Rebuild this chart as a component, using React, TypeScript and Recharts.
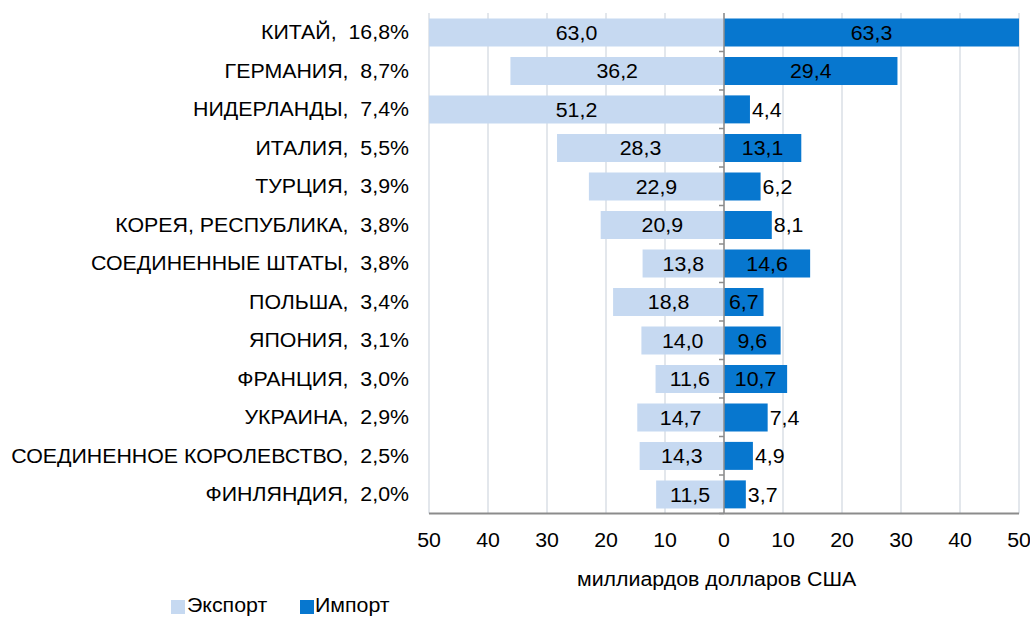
import React from "react";
import { BarChart, Bar, XAxis, YAxis, CartesianGrid, Legend, LabelList, ReferenceLine } from "recharts";

const countries = [
  "КИТАЙ",
  "ГЕРМАНИЯ",
  "НИДЕРЛАНДЫ",
  "ИТАЛИЯ",
  "ТУРЦИЯ",
  "КОРЕЯ, РЕСПУБЛИКА",
  "СОЕДИНЕННЫЕ ШТАТЫ",
  "ПОЛЬША",
  "ЯПОНИЯ",
  "ФРАНЦИЯ",
  "УКРАИНА",
  "СОЕДИНЕННОЕ КОРОЛЕВСТВО",
  "ФИНЛЯНДИЯ",
];
const shares = ["16,8%", "8,7%", "7,4%", "5,5%", "3,9%", "3,8%", "3,8%", "3,4%", "3,1%", "3,0%", "2,9%", "2,5%", "2,0%"];
const exportValues = [63.0, 36.2, 51.2, 28.3, 22.9, 20.9, 13.8, 18.8, 14.0, 11.6, 14.7, 14.3, 11.5];
const importValues = [63.3, 29.4, 4.4, 13.1, 6.2, 8.1, 14.6, 6.7, 9.6, 10.7, 7.4, 4.9, 3.7];
const xTicks = [-50, -40, -30, -20, -10, 0, 10, 20, 30, 40, 50];

// import labels that sit to the right of the bar instead of inside
const importOutside = ["НИДЕРЛАНДЫ", "ТУРЦИЯ", "КОРЕЯ, РЕСПУБЛИКА", "УКРАИНА", "СОЕДИНЕННОЕ КОРОЛЕВСТВО", "ФИНЛЯНДИЯ"];

const EXPORT_COLOR = "#C6D9F1";
const IMPORT_COLOR = "#0777CF";
const FONT = "'Liberation Sans', Arial, sans-serif";
const FS = 19.5;
const SX = 1.095; // the original text is a bit wider than it is tall

const data = countries.map((c, i) => ({
  name: c,
  label: `${c},\u00a0\u00a0${shares[i]}`,
  exp: -exportValues[i],
  imp: importValues[i],
}));

const fmt = (v: number) => Math.abs(v).toFixed(1).replace(".", ",");

// text drawn with a slight horizontal stretch
const Txt = ({ x, y, anchor = "middle", children, central = true }: any) => (
  <text
    transform={`translate(${x},${y}) scale(${SX},1)`}
    textAnchor={anchor}
    dominantBaseline={central ? "central" : "alphabetic"}
    fontSize={FS}
    fontFamily={FONT}
    fill="#000"
  >
    {children}
  </text>
);

const ExportLabel = (props: any) => {
  const { x, y, width, height, value } = props;
  return <Txt x={x + width / 2} y={y + height / 2}>{fmt(value)}</Txt>;
};

const ImportLabel = (props: any) => {
  const { x, y, width, height, value, index } = props;
  const outside = importOutside.includes(countries[index]);
  return (
    <Txt x={outside ? x + width + 2 : x + width / 2} y={y + height / 2} anchor={outside ? "start" : "middle"}>
      {fmt(value)}
    </Txt>
  );
};

const CategoryTick = (props: any) => {
  const { x, y, payload } = props;
  return <Txt x={x} y={y} anchor="end">{payload.value}</Txt>;
};

const ValueTick = (props: any) => {
  const { x, y, payload } = props;
  return <Txt x={x} y={y + 14} central={false}>{String(Math.abs(payload.value))}</Txt>;
};

const ZeroAxis = (props: any) => {
  const { x1, y1, x2, y2 } = props;
  const step = (y2 - y1) / countries.length;
  const marks = [];
  for (let i = 0; i < countries.length; i++) {
    const yy = y1 + step * i;
    marks.push(<line key={i} x1={x1 - 5} x2={x1} y1={yy} y2={yy} stroke="#8C8C8C" strokeWidth={1.5} />);
  }
  return (
    <g>
      <line x1={x1} y1={y1} x2={x2} y2={y2} stroke="#8C8C8C" strokeWidth={1.5} />
      {marks}
    </g>
  );
};

const stretch: React.CSSProperties = {
  position: "absolute",
  lineHeight: `${FS}px`,
  whiteSpace: "nowrap",
  transform: `scaleX(${SX})`,
  transformOrigin: "left top",
};

const LegendBlock = () => (
  <div style={{ position: "relative", width: 1030, height: 57, fontFamily: FONT, fontSize: FS, color: "#000" }}>
    <div style={{ ...stretch, left: 577, top: 10.2 }}>миллиардов долларов США</div>
    <div style={{ position: "absolute", left: 171, top: 40, width: 14, height: 14, background: EXPORT_COLOR }} />
    <div style={{ ...stretch, left: 187, top: 35.5 }}>Экспорт</div>
    <div style={{ position: "absolute", left: 300, top: 40, width: 14, height: 14, background: IMPORT_COLOR }} />
    <div style={{ ...stretch, left: 315, top: 35.5 }}>Импорт</div>
  </div>
);

export default function App() {
  return (
    <div style={{ position: "absolute", left: 0, top: 0, width: 1030, height: 617, background: "#fff", fontFamily: FONT }}>
      <BarChart
        width={1030}
        height={617}
        data={data}
        layout="vertical"
        stackOffset="sign"
        barCategoryGap="14%"
        margin={{ top: 13, right: 11, bottom: 0, left: 0 }}
      >
        <CartesianGrid horizontal={false} vertical={true} stroke="#DADFE6" strokeWidth={1.5} />
        <XAxis
          type="number"
          domain={[-50, 50]}
          ticks={xTicks}
          allowDataOverflow
          height={103.5}
          tickLine={false}
          tickSize={0}
          tickMargin={19}
          axisLine={{ stroke: "#8C8C8C", strokeWidth: 2 }}
          tick={ValueTick}
          interval={0}
        />
        <YAxis
          type="category"
          dataKey="label"
          width={429}
          tickLine={false}
          axisLine={false}
          tickSize={0}
          tickMargin={20}
          interval={0}
          tick={CategoryTick}
        />
        <Bar dataKey="exp" stackId="a" fill={EXPORT_COLOR} isAnimationActive={false}>
          <LabelList dataKey="exp" content={ExportLabel} />
        </Bar>
        <Bar dataKey="imp" stackId="a" fill={IMPORT_COLOR} isAnimationActive={false}>
          <LabelList dataKey="imp" content={ImportLabel} />
        </Bar>
        <ReferenceLine x={0} shape={ZeroAxis} />
        <Legend
          layout="horizontal"
          verticalAlign="middle"
          align="center"
          wrapperStyle={{ top: 560, left: 0, width: 1030, height: 57 }}
          content={LegendBlock}
        />
      </BarChart>
    </div>
  );
}
